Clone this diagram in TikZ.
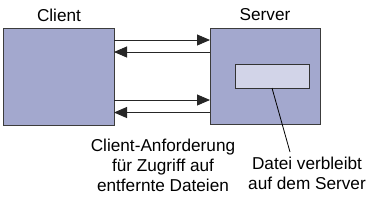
\documentclass[tikz,border=0pt]{standalone}
\usepackage{fontspec}
\setmainfont{Liberation Sans}
\usetikzlibrary{arrows.meta}
\definecolor{boxfill}{RGB}{163,168,206}
\definecolor{innerfill}{RGB}{210,212,232}
\definecolor{edge}{RGB}{60,60,60}
\begin{document}
\begin{tikzpicture}[x=1pt,y=-1pt,
  bigbox/.style={draw=edge,line width=1pt,fill=boxfill,inner sep=0pt,outer sep=0pt,anchor=north west},
  filebox/.style={draw=black!80,line width=1pt,fill=innerfill,inner sep=0pt,outer sep=0pt,anchor=north west},
  lbl/.style={font=\fontsize{17.2}{20}\selectfont,inner sep=0pt,align=center},
  conn/.style={line width=0.9pt,draw=black!85,-{Triangle[length=13pt,width=11pt]}},
  leader/.style={line width=0.8pt,draw=black}]
\useasboundingbox (0,0) rectangle (384,202);
\node[bigbox,minimum width=110pt,minimum height=97pt] (client) at (4,28) {};
\node[bigbox,minimum width=110pt,minimum height=96pt] (server) at (210,28) {};
\node[filebox,minimum width=74pt,minimum height=24pt] (file) at (235,64) {};
\node[lbl] (clab) at (59,15) {Client};
\node[lbl] (slab) at (265,15) {Server};
\node[lbl] (req) at (163,165) {Client-Anforderung\\für Zugriff auf\\entfernte Dateien};
\node[lbl] (dat) at (307,173) {Datei verbleibt\\auf dem Server};
\coordinate (y1) at (0,40);
\coordinate (y2) at (0,52);
\coordinate (y3) at (0,100);
\coordinate (y4) at (0,112.5);
\draw[conn] (client.east |- y1) -- (server.west |- y1);
\draw[conn] (server.west |- y2) -- (client.east |- y2);
\draw[conn] (client.east |- y3) -- (server.west |- y3);
\draw[conn] (server.west |- y4) -- (client.east |- y4);
\coordinate (lend) at (290,152);
\draw[leader] (272,88) -- (lend);
\end{tikzpicture}
\end{document}
